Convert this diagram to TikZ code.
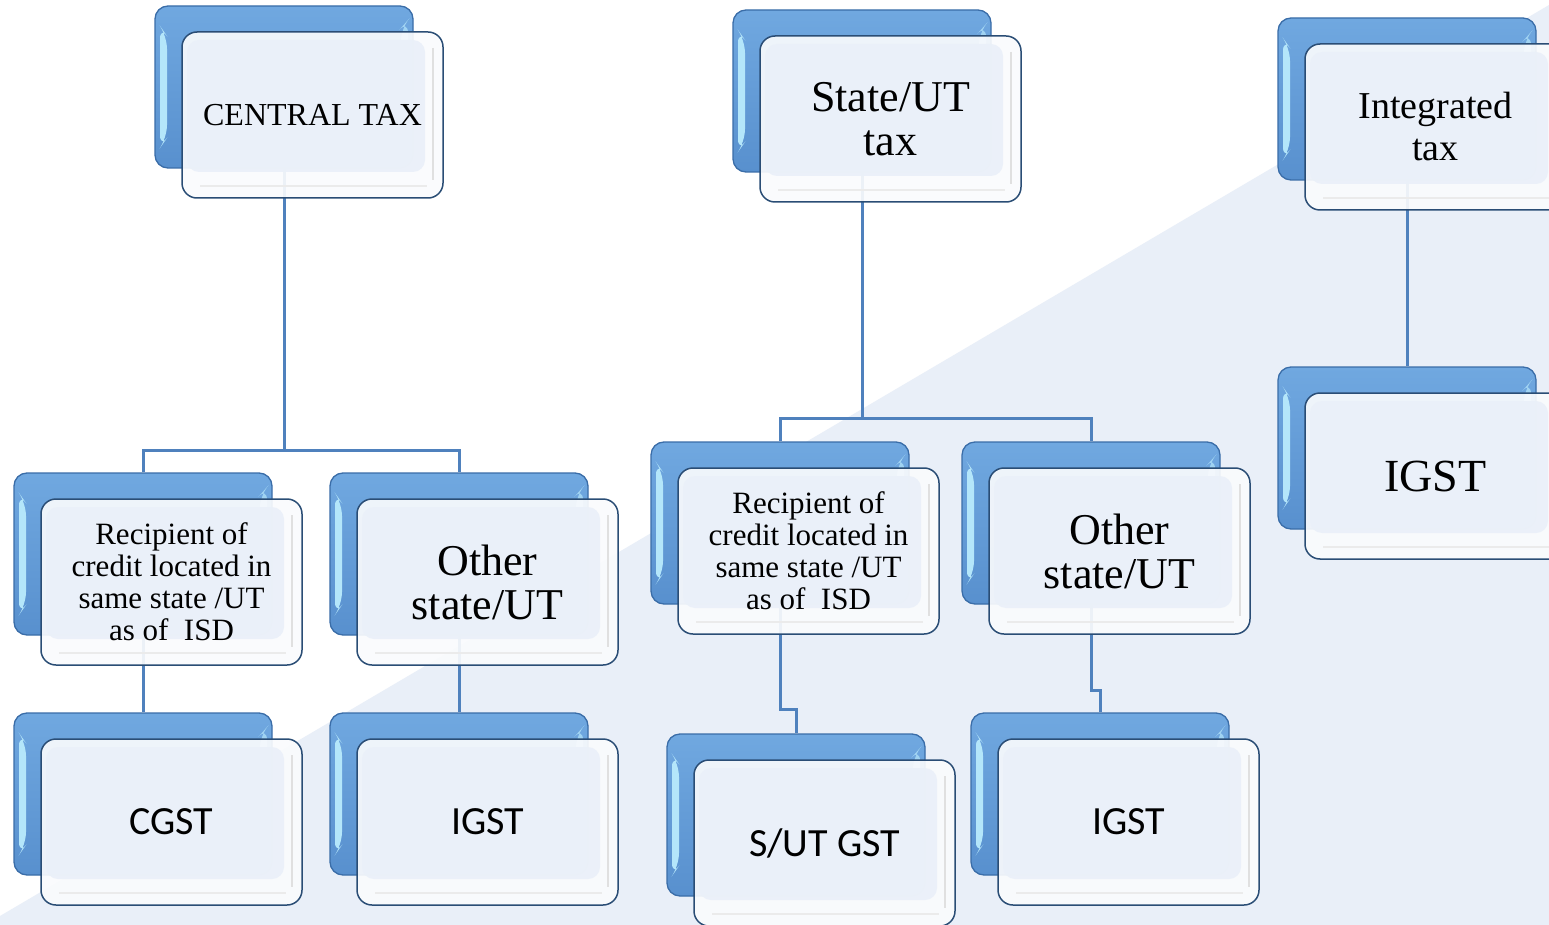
\documentclass[tikz,border=0pt]{standalone}
\usepackage{fontspec}
\setmainfont{Liberation Serif}
\newfontfamily\calibri{Carlito}
\usetikzlibrary{calc}
\definecolor{bgblue}{HTML}{E9EFF8}
\definecolor{connblue}{HTML}{4F81BD}
\definecolor{backtop}{HTML}{70A8E0}
\definecolor{backbot}{HTML}{5890CE}
\definecolor{backdraw}{HTML}{3A6DA8}
\definecolor{stripe}{HTML}{B4E6FA}
\definecolor{frontdraw}{HTML}{2A4D75}
\definecolor{panefill}{HTML}{EAF0F9}
\definecolor{frontfill}{HTML}{FAFBFD}
\pgfdeclarelayer{bg}
\pgfdeclarelayer{lines}
\pgfsetlayers{bg,lines,main}
\tikzset{
  backbox/.style={draw=backdraw, line width=1.3pt, rounded corners=13pt,
    top color=backtop, bottom color=backbot,
    minimum width=258pt, minimum height=162pt, inner sep=0pt,
    path picture={
      \fill[stripe] ([shift={(5pt,-20pt)}]path picture bounding box.north west)
        -- ([shift={(12pt,-30pt)}]path picture bounding box.north west)
        -- ([shift={(12pt,30pt)}]path picture bounding box.south west)
        -- ([shift={(5pt,20pt)}]path picture bounding box.south west) -- cycle;
      \fill[stripe!70!backtop] ([shift={(-5pt,-14pt)}]path picture bounding box.north east)
        -- ([shift={(-12pt,-22pt)}]path picture bounding box.north east)
        -- ([shift={(-12pt,-60pt)}]path picture bounding box.north east)
        -- ([shift={(-5pt,-60pt)}]path picture bounding box.north east) -- cycle;
    }},
  frontbox/.style={draw=frontdraw, line width=1.5pt, rounded corners=15pt,
    fill=frontfill, fill opacity=0.92, text opacity=1, text=black,
    minimum width=261pt, minimum height=166pt, inner sep=0pt, align=center,
    path picture={
      \fill[panefill, rounded corners=12pt]
        ([shift={(5pt,-8pt)}]path picture bounding box.north west) rectangle
        ([shift={(-18pt,26pt)}]path picture bounding box.south east);
      \draw[black!12, line width=2.5pt]
        ([shift={(-10pt,-16pt)}]path picture bounding box.north east) --
        ([shift={(-10pt,18pt)}]path picture bounding box.south east);
      \draw[black!8, line width=1.5pt]
        ([shift={(18pt,12pt)}]path picture bounding box.south west) --
        ([shift={(-16pt,12pt)}]path picture bounding box.south east);
    }},
  conn/.style={draw=connblue, line width=3pt},
  fA/.style={font=\fontsize{32}{32}\selectfont},
  fB/.style={font=\fontsize{44}{44}\selectfont},
  fC/.style={font=\fontsize{38}{42}\selectfont},
  fD/.style={font=\fontsize{31}{32}\selectfont},
  fS/.style={font=\calibri\fontsize{40}{44}\selectfont},
}
\begin{document}
\begin{tikzpicture}[x=1pt,y=-1pt]
\useasboundingbox (0,0) rectangle (1549,925);
\clip (0,0) rectangle (1549,925);
\begin{pgfonlayer}{bg}
  \fill[white] (0,0) rectangle (1549,925);
  \fill[bgblue] (0,916) -- (1549,5) -- (1549,925) -- (0,925) -- cycle;
\end{pgfonlayer}

% back boxes
\node[backbox] (ctb) at (284,87) {};
\node[backbox] (rlb) at (143,554) {};
\node[backbox] (olb) at (459,554) {};
\node[backbox] (cgb) at (143,794) {};
\node[backbox] (ilb) at (459,794) {};
\node[backbox] (stb) at (862,91) {};
\node[backbox] (rmb) at (780,523) {};
\node[backbox] (omb) at (1091,523) {};
\node[backbox] (sub) at (796,815) {};
\node[backbox] (imb) at (1100,794) {};
\node[backbox] (itb) at (1407,99) {};
\node[backbox] (irb) at (1407,448) {};

% front boxes
\node[frontbox,fA] (ct) at (312.5,115) {CENTRAL TAX};
\node[frontbox,fD] (rl) at (171.5,582) {Recipient of\\credit located in\\same state /UT\\as of\ \ ISD};
\node[frontbox,fB] (ol) at (487.5,582) {Other\\state/UT};
\node[frontbox,fS] (cg) at (171.5,822) {CGST};
\node[frontbox,fS] (il) at (487.5,822) {IGST};
\node[frontbox,fB] (st) at (890.5,119) {State/UT\\tax};
\node[frontbox,fD] (rm) at (808.5,551) {Recipient of\\credit located in\\same state /UT\\as of\ \ ISD};
\node[frontbox,fB] (om) at (1119.5,551) {Other\\state/UT};
\node[frontbox,fS] (su) at (824.5,843) {S/UT GST};
\node[frontbox,fS] (im) at (1128.5,822) {IGST};
\node[frontbox,fC] (it) at (1435.5,127) {Integrated\\tax};
\node[frontbox,font=\fontsize{46}{46}\selectfont] (ir) at (1435.5,476) {IGST};

% junction levels
\coordinate (j1) at (0,450);
\coordinate (j2) at (0,418);
\coordinate (j3) at (0,709);
\coordinate (j4) at (0,690);

\begin{pgfonlayer}{lines}
  \draw[conn] (ctb.south) -- (ctb.south |- j1);
  \draw[conn] (rlb.north) |- (olb.north |- j1) -- (olb.north);
  \draw[conn] (rlb.south) -- (cgb.north);
  \draw[conn] (olb.south) -- (ilb.north);
  \draw[conn] (stb.south) -- (stb.south |- j2);
  \draw[conn] (rmb.north) |- (omb.north |- j2) -- (omb.north);
  \draw[conn] (rmb.south) -- (rmb.south |- j3) -| (sub.north);
  \draw[conn] (omb.south) -- (omb.south |- j4) -| (imb.north);
  \draw[conn] (itb.south) -- (irb.north);
\end{pgfonlayer}
\end{tikzpicture}
\end{document}
